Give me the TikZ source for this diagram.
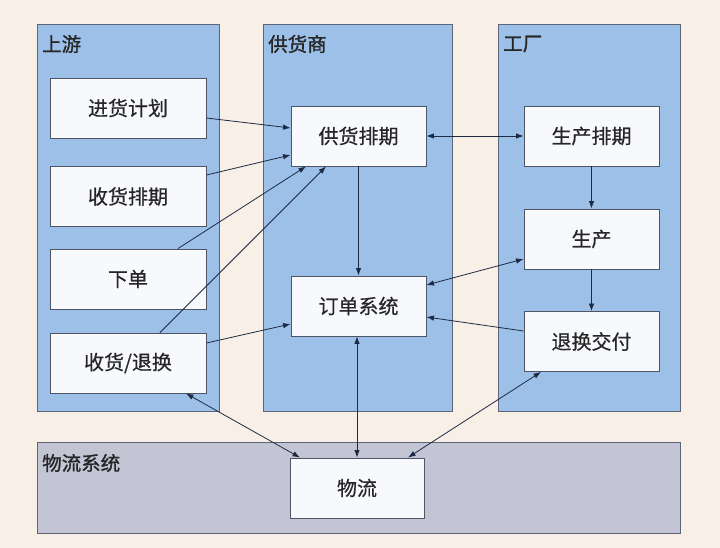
\documentclass[tikz,border=0pt]{standalone}
\usepackage{fontspec}
\setmainfont{Noto Sans CJK SC}
\newfontfamily\titlefont[FakeBold=1.2]{Noto Sans CJK SC}
\newfontfamily\boxfont[FakeBold=0.5]{Noto Sans CJK SC}
\usetikzlibrary{arrows.meta}
\definecolor{bgcream}{HTML}{F8F0E6}
\definecolor{panelblue}{HTML}{9DC0E8}
\definecolor{panelgrey}{HTML}{C3C5D5}
\definecolor{panelline}{HTML}{5C6678}
\definecolor{boxfill}{HTML}{F7F9FC}
\definecolor{boxline}{HTML}{4E5666}
\definecolor{linkcol}{HTML}{1E2A44}
\begin{document}
\begin{tikzpicture}[x=1pt, y=-1pt,
    panel/.style={draw=panelline, line width=0.9pt},
    title/.style={anchor=west, inner sep=0pt, text=black!85, font=\titlefont\fontsize{19.5}{22}\selectfont},
    box/.style={draw=boxline, fill=boxfill, line width=0.9pt, inner sep=0pt,
        minimum width=135pt, minimum height=60pt, text=black!85, font=\boxfont\fontsize{20}{23}\selectfont},
    wide/.style={box, minimum width=156pt},
    link/.style={draw=linkcol, line width=0.8pt, -{Latex[length=7.5pt,width=5.5pt]}},
    both/.style={link, {Latex[length=7.5pt,width=5.5pt]}-{Latex[length=7.5pt,width=5.5pt]}}]
    % background and panels
    \fill[bgcream] (0,0) rectangle (720,548);
    \useasboundingbox (0,0) rectangle (720,548);
    \filldraw[panel, fill=panelblue] (37,24) rectangle (219,411);
    \filldraw[panel, fill=panelblue] (263,24) rectangle (452,411);
    \filldraw[panel, fill=panelblue] (498,24) rectangle (680,411);
    \filldraw[panel, fill=panelgrey] (37,442) rectangle (680,533);
    \node (t1)[title] at (42,44) {上游};
    \node (t2)[title] at (268,44) {供货商};
    \node (t3)[title] at (503,44) {工厂};
    \node (t4)[title] at (42,463) {物流系统};
    % upstream
    \node (jhjh)[wide] at (128,108) {进货计划};
    \node (shpq)[wide] at (128,196.5) {收货排期};
    \node (xd)[wide] at (128,279) {下单};
    \node (shth)[wide] at (128,363) {收货/退换};
    % supplier
    \node (ghpq)[box] at (358.5,136) {供货排期};
    \node (ddxt)[box] at (358.5,306) {订单系统};
    % factory
    \node (scpq)[box] at (591.5,136) {生产排期};
    \node (sc)[box] at (591.5,239) {生产};
    \node (thjf)[box] at (591.5,341.5) {退换交付};
    % logistics
    \node (wl)[box, minimum width=134pt] at (357,488) {物流};
    % links
    \draw[link] ([yshift=-10pt]jhjh.east) -- ([yshift=8pt]ghpq.west);
    \draw[link] ([yshift=21.5pt]shpq.east) -- ([yshift=-19pt]ghpq.west);
    \draw[link] ([xshift=50pt]xd.north) -- ([xshift=-52.5pt]ghpq.south);
    \draw[link] ([xshift=32pt]shth.north) -- ([xshift=-32.5pt]ghpq.south);
    \draw[link] ([yshift=20pt]shth.east) -- ([yshift=-18pt]ddxt.west);
    \draw[both] (ghpq) -- (scpq);
    \draw[link] (ghpq) -- (ddxt);
    \draw[link] (scpq) -- (sc);
    \draw[link] (sc) -- (thjf);
    \draw[both] ([yshift=21pt]ddxt.east) -- ([yshift=-20pt]sc.west);
    \draw[link] ([yshift=10.5pt]thjf.west) -- ([yshift=-11pt]ddxt.east);
    \draw[both] ([xshift=-1.5pt]ddxt.south) -- (wl.north);
    \draw[both] ([xshift=58pt]shth.south) -- ([xshift=-57pt]wl.north);
    \draw[both] ([xshift=-50.5pt]thjf.south) -- ([xshift=51pt]wl.north);
\end{tikzpicture}
\end{document}
